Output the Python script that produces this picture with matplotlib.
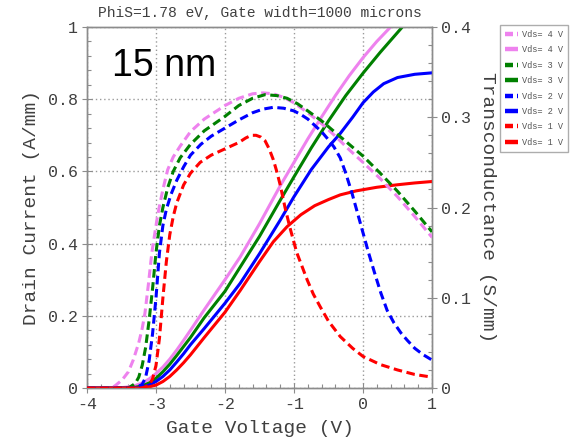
import matplotlib
matplotlib.use("Agg")
import matplotlib.pyplot as plt
from matplotlib.lines import Line2D
from matplotlib.ticker import MultipleLocator

# ---- data ----
title = "PhiS=1.78 eV, Gate width=1000 microns"
annotation = "15 nm"
xlabel = "Gate Voltage (V)"
ylabel_left = "Drain Current (A/mm)"
ylabel_right = "Transconductance (S/mm)"
x_ticks = [-4, -3, -2, -1, 0, 1]
y_left_ticks = [0, 0.2, 0.4, 0.6, 0.8, 1]
y_right_ticks = [0, 0.1, 0.2, 0.3, 0.4]
legend_labels = ["Vds= 4 V", "Vds= 4 V", "Vds= 3 V", "Vds= 3 V",
                 "Vds= 2 V", "Vds= 2 V", "Vds= 1 V", "Vds= 1 V"]

# drain current (solid, left axis)
id_violet_x = [-4, -3.6, -3.5, -3.4, -3.3, -3.2, -3.1, -3.0, -2.9, -2.8, -2.7, -2.6, -2.5, -2.3, -2.0, -1.78, -1.5, -1.2, -1.0, -0.8, -0.62, -0.4, -0.2, 0.0, 0.2, 0.4, 0.6, 1.0]
id_violet_y = [0, 0, 0.001, 0.003, 0.007, 0.014, 0.025, 0.04, 0.058, 0.08, 0.105, 0.132, 0.16, 0.217, 0.30, 0.363, 0.455, 0.56, 0.625, 0.69, 0.745, 0.81, 0.865, 0.915, 0.96, 1.0, 1.04, 1.12]
id_green_x = [-4, -3.4, -3.3, -3.2, -3.1, -3.0, -2.9, -2.8, -2.7, -2.6, -2.5, -2.3, -2.0, -1.78, -1.5, -1.2, -1.0, -0.75, -0.5, -0.25, 0.0, 0.25, 0.57, 1.0]
id_green_y = [0, 0, 0.002, 0.006, 0.014, 0.027, 0.045, 0.066, 0.09, 0.115, 0.14, 0.195, 0.268, 0.335, 0.42, 0.52, 0.585, 0.665, 0.74, 0.81, 0.872, 0.93, 1.0, 1.085]
id_blue_x = [-4, -3.3, -3.2, -3.1, -3.0, -2.9, -2.8, -2.7, -2.6, -2.5, -2.3, -2.0, -1.78, -1.5, -1.2, -1.0, -0.75, -0.5, -0.33, -0.15, 0.0, 0.15, 0.3, 0.5, 0.75, 1.0]
id_blue_y = [0, 0, 0.003, 0.008, 0.018, 0.032, 0.05, 0.072, 0.095, 0.12, 0.165, 0.235, 0.29, 0.372, 0.465, 0.53, 0.605, 0.668, 0.705, 0.75, 0.79, 0.82, 0.843, 0.86, 0.869, 0.873]
id_red_x = [-4, -3.2, -3.1, -3.0, -2.9, -2.8, -2.7, -2.6, -2.5, -2.3, -2.0, -1.78, -1.5, -1.3, -1.1, -0.9, -0.7, -0.5, -0.33, -0.1, 0.2, 0.5, 0.75, 1.0]
id_red_y = [0, 0, 0.003, 0.008, 0.018, 0.032, 0.05, 0.07, 0.092, 0.14, 0.21, 0.27, 0.35, 0.405, 0.447, 0.48, 0.505, 0.522, 0.535, 0.546, 0.556, 0.563, 0.568, 0.572]

# transconductance (dashed, right axis)
gm_violet_x = [-4, -3.7, -3.6, -3.49, -3.4, -3.33, -3.25, -3.2, -3.16, -3.11, -3.06, -3.01, -2.97, -2.9, -2.83, -2.75, -2.65, -2.5, -2.3, -2.0, -1.8, -1.6, -1.45, -1.3, -1.15, -1.0, -0.8, -0.6, -0.4, -0.2, 0.0, 0.25, 0.5, 0.75, 1.0]
gm_violet_y = [0, 0, 0.002, 0.009, 0.018, 0.031, 0.05, 0.066, 0.083, 0.115, 0.15, 0.175, 0.194, 0.22, 0.242, 0.256, 0.268, 0.284, 0.298, 0.313, 0.321, 0.326, 0.327, 0.326, 0.322, 0.316, 0.305, 0.293, 0.279, 0.264, 0.25, 0.232, 0.212, 0.19, 0.167]
gm_green_x = [-4, -3.4, -3.3, -3.25, -3.2, -3.15, -3.1, -3.05, -3.0, -2.95, -2.9, -2.83, -2.75, -2.65, -2.5, -2.3, -2.0, -1.8, -1.6, -1.42, -1.25, -1.1, -0.95, -0.8, -0.6, -0.4, -0.2, 0.0, 0.25, 0.5, 0.75, 1.0]
gm_green_y = [0, 0, 0.005, 0.012, 0.025, 0.045, 0.075, 0.11, 0.15, 0.18, 0.2, 0.222, 0.24, 0.255, 0.27, 0.285, 0.301, 0.313, 0.321, 0.325, 0.324, 0.321, 0.315, 0.307, 0.296, 0.283, 0.27, 0.257, 0.238, 0.218, 0.196, 0.173]
gm_blue_x = [-4, -3.3, -3.2, -3.15, -3.1, -3.05, -3.0, -2.95, -2.9, -2.85, -2.78, -2.7, -2.6, -2.5, -2.35, -2.2, -2.0, -1.8, -1.6, -1.45, -1.3, -1.15, -1.0, -0.9, -0.8, -0.7, -0.6, -0.5, -0.42, -0.33, -0.25, -0.16, -0.08, 0.0, 0.08, 0.17, 0.26, 0.35, 0.45, 0.55, 0.64, 0.75, 0.87, 1.0]
gm_blue_y = [0, 0, 0.004, 0.012, 0.03, 0.06, 0.1, 0.15, 0.18, 0.198, 0.215, 0.23, 0.245, 0.258, 0.27, 0.279, 0.288, 0.297, 0.305, 0.309, 0.311, 0.31, 0.307, 0.303, 0.298, 0.291, 0.284, 0.275, 0.267, 0.255, 0.238, 0.216, 0.194, 0.172, 0.15, 0.127, 0.105, 0.086, 0.072, 0.061, 0.053, 0.044, 0.037, 0.031]
gm_red_x = [-4, -3.2, -3.1, -3.05, -3.0, -2.95, -2.9, -2.85, -2.8, -2.75, -2.7, -2.6, -2.5, -2.36, -2.2, -2.0, -1.8, -1.7, -1.62, -1.55, -1.48, -1.42, -1.36, -1.3, -1.25, -1.2, -1.13, -1.06, -0.96, -0.88, -0.81, -0.72, -0.62, -0.5, -0.33, -0.15, 0.0, 0.25, 0.5, 0.75, 1.0]
gm_red_y = [0, 0, 0.003, 0.01, 0.025, 0.055, 0.1, 0.14, 0.17, 0.19, 0.205, 0.225, 0.238, 0.25, 0.258, 0.265, 0.272, 0.277, 0.28, 0.28, 0.278, 0.274, 0.265, 0.253, 0.24, 0.225, 0.2, 0.178, 0.15, 0.134, 0.12, 0.104, 0.09, 0.074, 0.057, 0.044, 0.035, 0.026, 0.02, 0.015, 0.012]

colors = ["violet", "green", "blue", "red"]

plt.rcParams["axes.unicode_minus"] = False
mono = "Liberation Mono"
txt = "#404040"
spine = "#8c8c8c"

fig = plt.figure(figsize=(5.8, 4.41), dpi=100)
ax = fig.add_axes([87 / 580, 1 - 388 / 441, 345 / 580, 361 / 441])
ax2 = ax.twinx()

ax.set_xlim(-4, 1)
ax.set_ylim(0, 1)
ax2.set_ylim(0, 0.4)

lw = 2.2
dash = (2.8, 1.5)
ids = [(id_violet_x, id_violet_y), (id_green_x, id_green_y),
       (id_blue_x, id_blue_y), (id_red_x, id_red_y)]
gms = [(gm_violet_x, gm_violet_y), (gm_green_x, gm_green_y),
       (gm_blue_x, gm_blue_y), (gm_red_x, gm_red_y)]
for c, (xs, ys) in zip(colors, ids):
    ax.plot(xs, ys, color=c, lw=lw, solid_joinstyle="round", zorder=3)
for c, (xs, ys) in zip(colors, gms):
    ax2.plot(xs, ys, color=c, lw=lw, dashes=dash, dash_joinstyle="round", zorder=3)

# ticks
ax.set_xticks(x_ticks)
ax.set_xticklabels([str(v) for v in x_ticks])
ax.set_yticks(y_left_ticks)
ax.set_yticklabels(["0", "0.2", "0.4", "0.6", "0.8", "1"])
ax2.set_yticks(y_right_ticks)
ax2.set_yticklabels(["0", "0.1", "0.2", "0.3", "0.4"])
ax.xaxis.set_minor_locator(MultipleLocator(0.2))
ax.yaxis.set_minor_locator(MultipleLocator(0.04))
ax2.yaxis.set_minor_locator(MultipleLocator(0.02))

for a in (ax, ax2):
    a.tick_params(which="major", direction="inout", length=7, width=0.8,
                  color=spine, labelsize=12, labelcolor=txt, pad=3)
    a.tick_params(which="minor", direction="in", length=3, width=0.8, color=spine)
    for s in a.spines.values():
        s.set_color(spine)
        s.set_linewidth(1.0)
    for lab in a.get_xticklabels() + a.get_yticklabels():
        lab.set_family(mono)

ax.grid(True, which="major", color="#9a9a9a", linestyle=(0, (1, 2)), linewidth=1.0)
ax.set_axisbelow(True)

ax.set_xlabel(xlabel, family=mono, fontsize=14, color=txt, labelpad=6)
ax.set_ylabel(ylabel_left, family=mono, fontsize=14, color=txt, labelpad=6)
ax2.set_ylabel(ylabel_right, family=mono, fontsize=14, color=txt, rotation=270, labelpad=18)
ax.set_title(title, family=mono, fontsize=10.5, color=txt, pad=7)

ax.text(-3.64, 0.864, annotation, family="Liberation Sans", fontsize=27,
        color="black", va="baseline", ha="left")

handles = []
for c in colors:
    handles.append(Line2D([], [], color=c, lw=3.2, dashes=(1.8, 0.9),
                          dash_capstyle="butt"))
    handles.append(Line2D([], [], color=c, lw=3.2, solid_capstyle="butt"))
leg = fig.legend(handles, legend_labels, loc="upper left",
                 bbox_to_anchor=(500 / 580, 1 - 25 / 441),
                 prop={"family": mono, "size": 6.2}, frameon=True,
                 fancybox=False, edgecolor="#999999", handlelength=1.5,
                 handletextpad=0.5, borderpad=0.55, labelspacing=0.75,
                 borderaxespad=0)
leg.get_frame().set_linewidth(1.0)
for t in leg.get_texts():
    t.set_color("#555555")

fig.savefig("out.png", dpi=100)
